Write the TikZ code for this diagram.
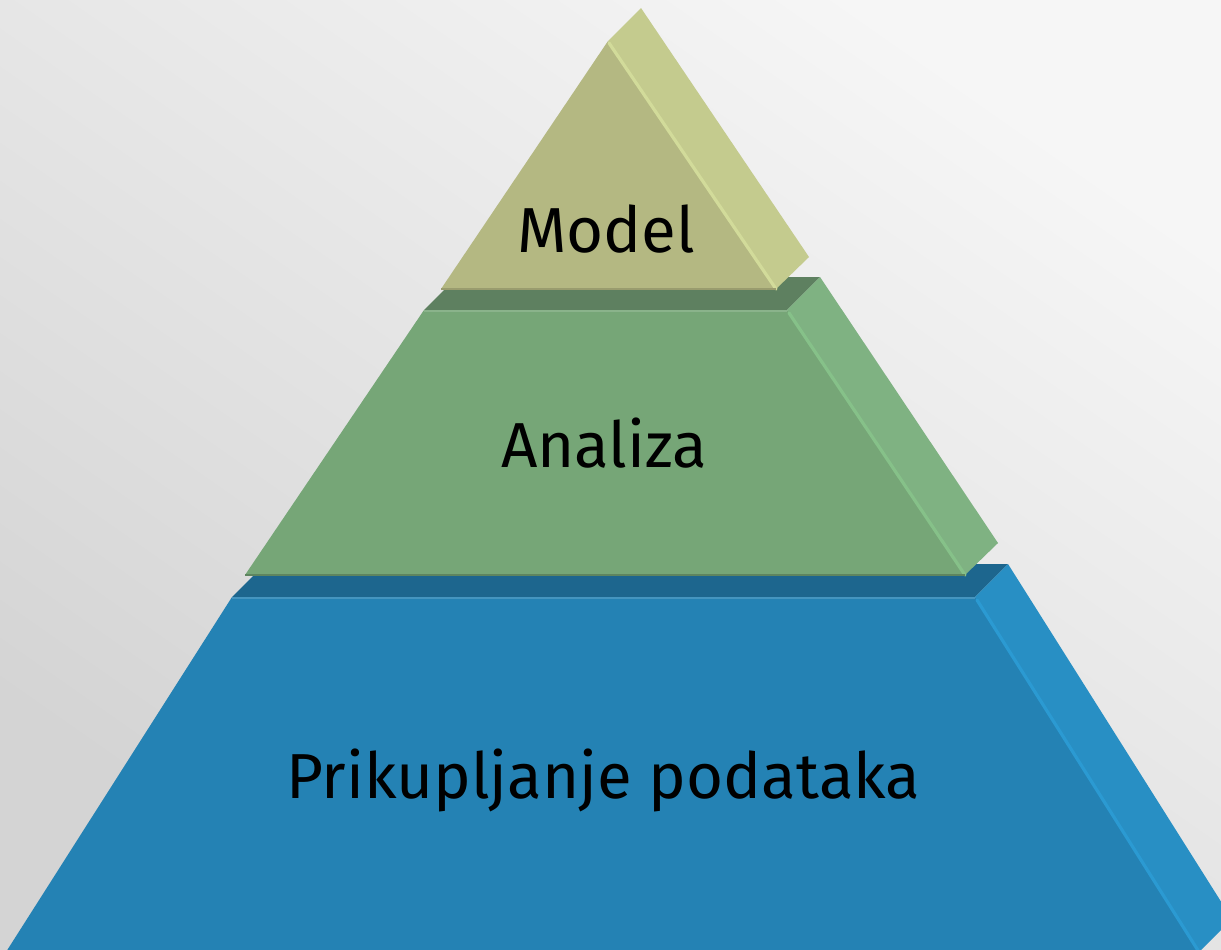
\documentclass[tikz,border=0pt]{standalone}
\usepackage{fontspec}
\setmainfont{Fira Sans}
\definecolor{bglight}{HTML}{F6F6F6}
\definecolor{bgdark}{HTML}{D4D4D4}
\definecolor{modelfront}{HTML}{B4B882}
\definecolor{modelside}{HTML}{C4CB8E}
\definecolor{modelhi}{HTML}{D2DB9A}
\definecolor{greentop}{HTML}{5E8060}
\definecolor{greenfront}{HTML}{76A677}
\definecolor{greenside}{HTML}{7FB282}
\definecolor{greenhi}{HTML}{86C189}
\definecolor{bluetop}{HTML}{1D668E}
\definecolor{bluefront}{HTML}{2482B4}
\definecolor{blueside}{HTML}{288FC4}
\definecolor{bluehi}{HTML}{2B9AD2}
\tikzset{
  lbl/.style={anchor=base, inner sep=0pt, text=black, font=\fontsize{31.8}{36}\selectfont},
  hiedge/.style={line width=1.6pt, line cap=round},
}
\begin{document}
\begin{tikzpicture}[x=0.5pt, y=-0.5pt]
\useasboundingbox (0,0) rectangle (1221,949);
\clip (0,0) rectangle (1221,949);
% background
\shade[top color=bglight, bottom color=bgdark, shading angle=-35]
  (0,0) rectangle (1221,949);
% blue layer
\fill[bluetop] (232,597) -- (265,564) -- (1008,564) -- (975,597) -- cycle;
\fill[blueside] (975,597) -- (1008,564) -- (1232,919) -- (1199,952) -- cycle;
\fill[bluefront] (232,597) -- (975,597) -- (1199,952) -- (6,952) -- cycle;
\draw[bluehi, hiedge] (977,600) -- (1199,952);
\draw[bluefront!85!white, line width=1pt] (232,598) -- (975,598);
% green layer
\fill[greentop] (424,310) -- (457,277) -- (820,277) -- (787,310) -- cycle;
\fill[greenside] (787,310) -- (820,277) -- (998,543) -- (965,575) -- cycle;
\fill[greenfront] (424,310) -- (787,310) -- (965,575) -- (245,575) -- cycle;
\draw[greenhi, hiedge] (789,313) -- (965,575);
\draw[greenfront!85!white, line width=1pt] (424,311) -- (787,311);
\draw[greenfront!80!black, line width=0.8pt] (245,575) -- (965,575);
% model layer
\fill[modelside] (608,41) -- (641,8) -- (809,257) -- (776,289) -- cycle;
\fill[modelfront] (608,41) -- (441,289) -- (776,289) -- cycle;
\draw[modelhi, hiedge] (609,43) -- (776,289);
\draw[modelfront!85!black, line width=0.8pt] (441,289) -- (776,289);
% labels
\node[lbl] (model) at (606,252) {Model};
\node[lbl] (analiza) at (604,467) {Analiza};
\node[lbl] (prik) at (603,798) {Prikupljanje podataka};
\end{tikzpicture}
\end{document}
